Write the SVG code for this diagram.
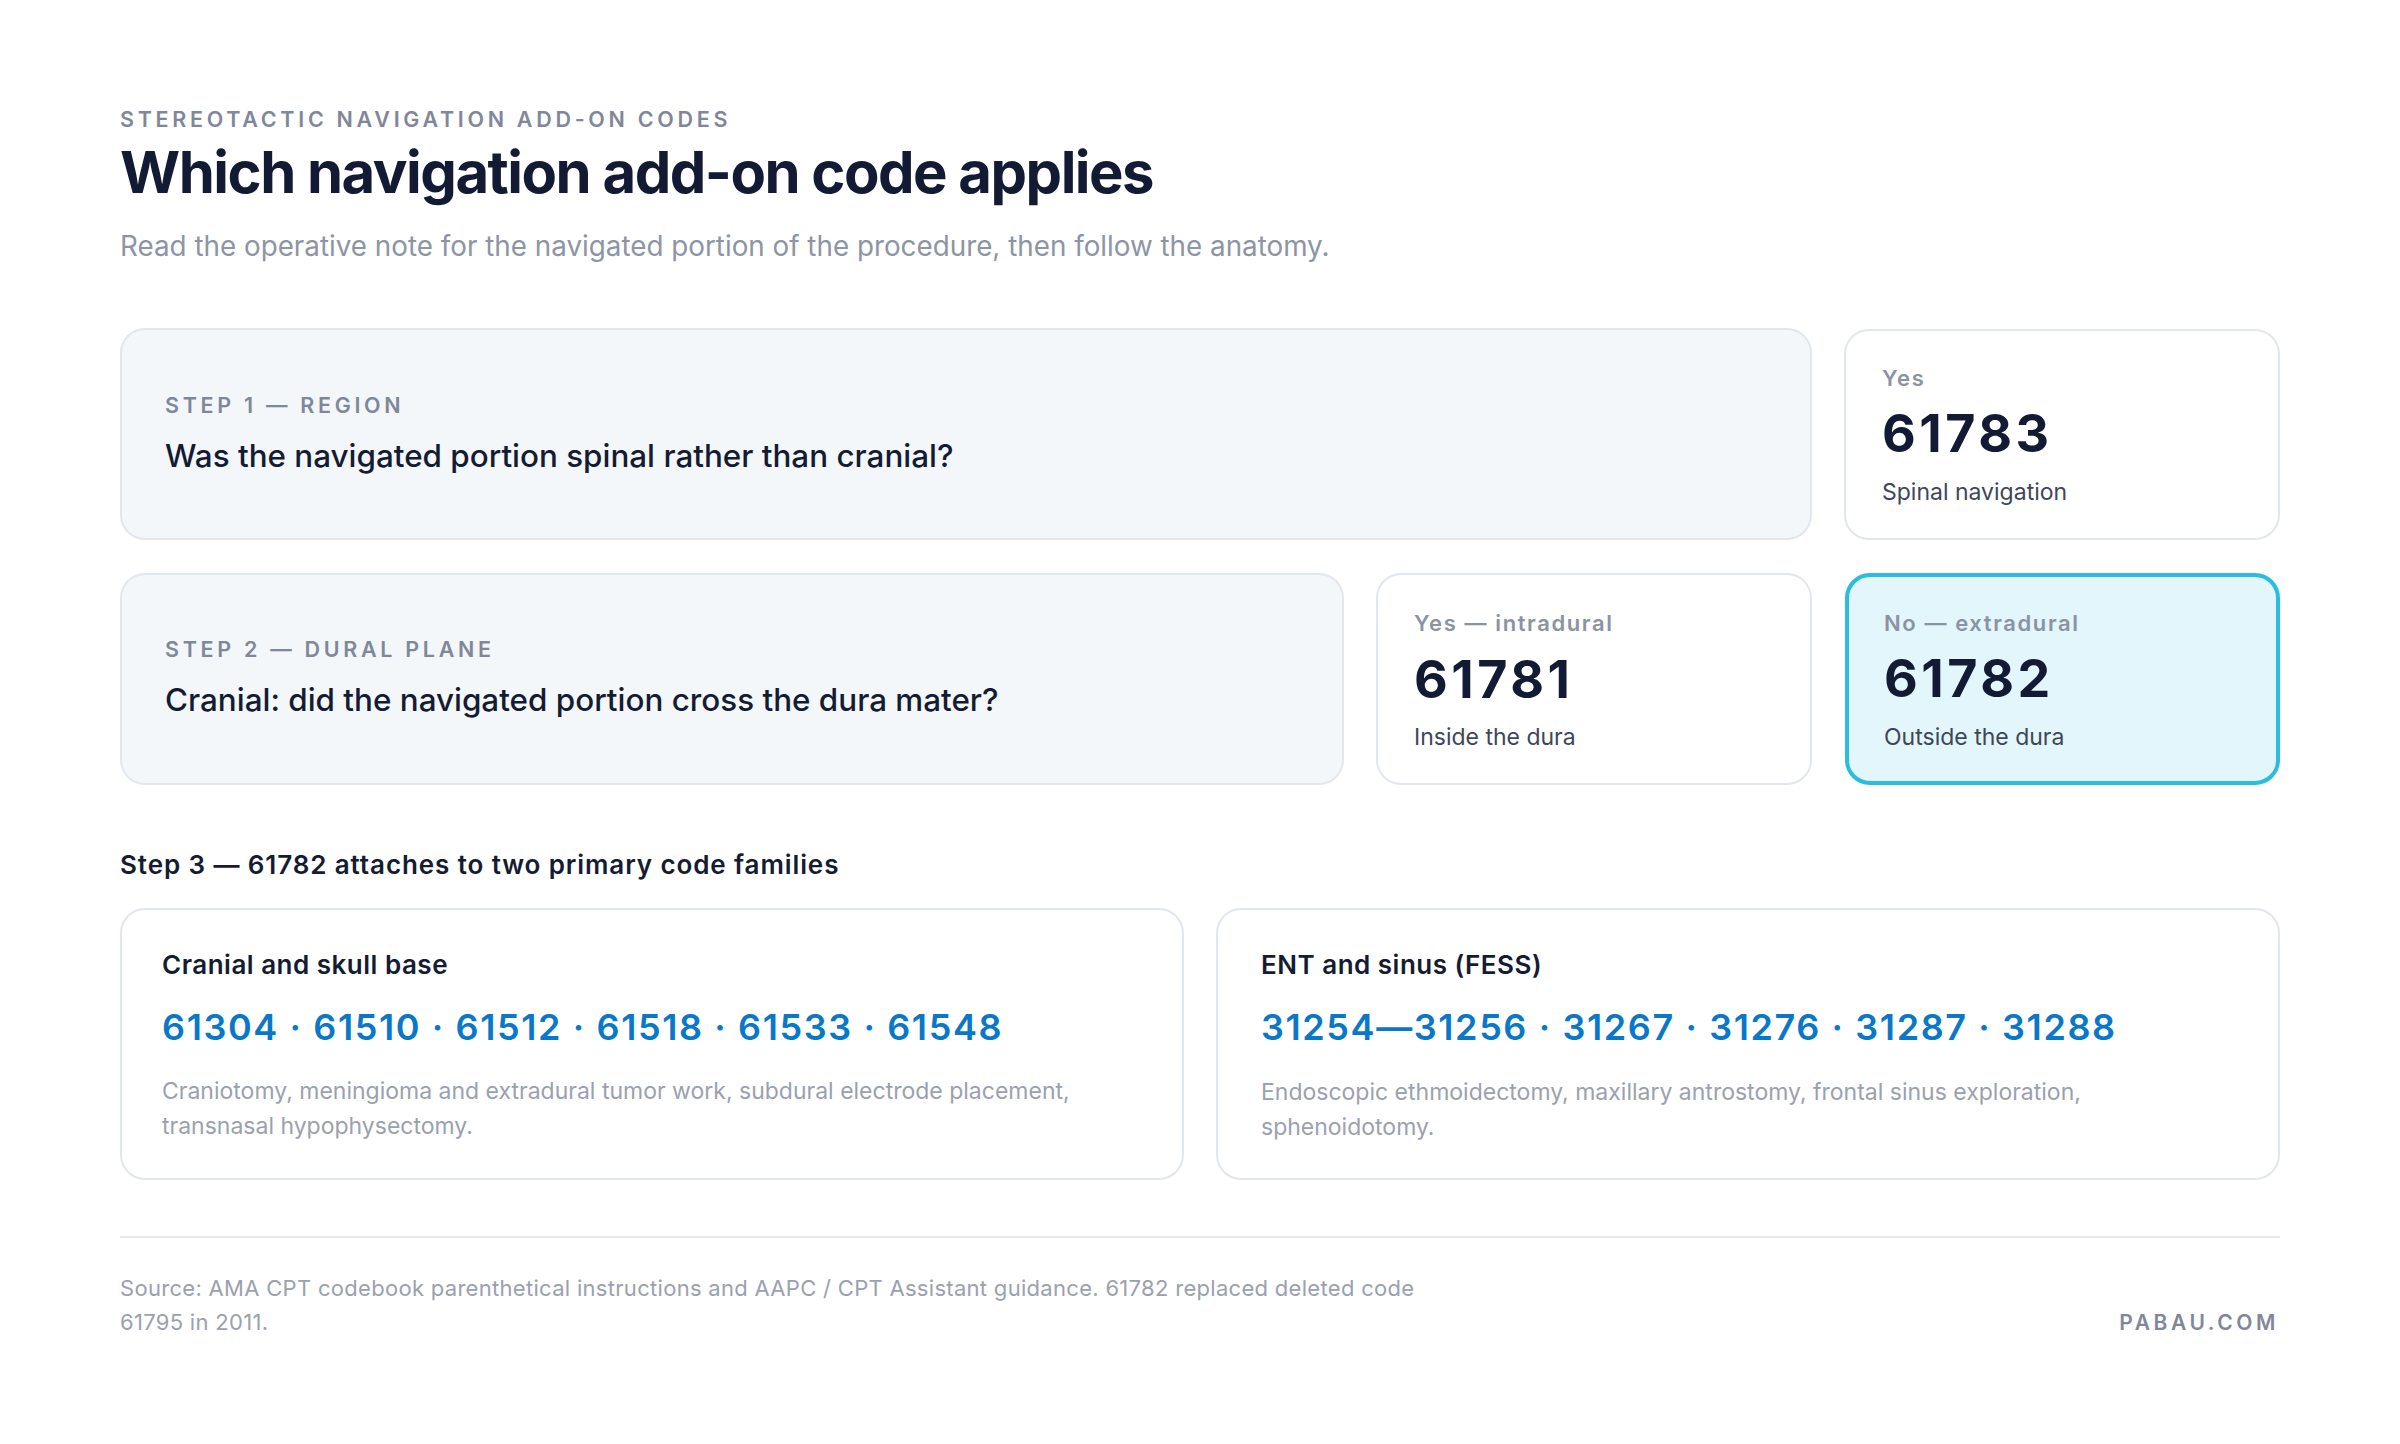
<svg xmlns="http://www.w3.org/2000/svg" width="2400" height="1444" viewBox="0 0 2400 1444">
<style>
text{font-family:Inter,"Noto Sans","Liberation Sans",sans-serif;}
.eyebrow{font-size:21.5px;font-weight:600;letter-spacing:3.7px;fill:#7f889a;}
.title{font-size:58px;font-weight:700;fill:#121b33;letter-spacing:-1.5px;}
.sub{font-size:27.8px;font-weight:400;fill:#8d95a5;}
.q{font-size:31.4px;font-weight:500;fill:#141c33;}
.card{fill:#f4f7fa;stroke:#e2e6ed;stroke-width:2;}
.res{fill:#ffffff;stroke:#e2e6ed;stroke-width:2;}
.hl{fill:#e2f6fb;stroke:#2bbde0;stroke-width:4;}
.lab{font-size:22px;font-weight:600;letter-spacing:1.6px;fill:#8b93a3;}
.code{font-size:52px;font-weight:700;letter-spacing:3.5px;fill:#121b33;}
.desc{font-size:23px;font-weight:400;fill:#3e4658;}
.h3{font-size:26px;font-weight:600;letter-spacing:0.9px;fill:#141c33;}
.ht{font-size:26px;font-weight:600;letter-spacing:0.5px;fill:#141c33;}
.codes{font-size:36px;font-weight:600;letter-spacing:1.6px;fill:#0a78c8;}
.small{font-size:23px;font-weight:400;fill:#9aa1ae;}
.foot{font-size:22px;font-weight:400;letter-spacing:0.3px;fill:#9aa1ae;}
.brand{font-size:21px;font-weight:600;letter-spacing:3.6px;fill:#7f889a;}
</style>
<rect width="2400" height="1444" fill="#ffffff"/>
<g id="header">
<text class="eyebrow" x="120" y="127">STEREOTACTIC NAVIGATION ADD-ON CODES</text>
<text class="title" x="120" y="193">Which navigation add-on code applies</text>
<text class="sub" x="120" y="256">Read the operative note for the navigated portion of the procedure, then follow the anatomy.</text>
</g>
<g id="connectors"></g>
<g id="step1">
<rect class="card" x="121" y="329" width="1690" height="210" rx="24"/>
<text class="eyebrow" x="165" y="413">STEP 1 — REGION</text>
<text class="q" x="165" y="467">Was the navigated portion spinal rather than cranial?</text>
</g>
<g id="res61783">
<rect class="res" x="1845" y="330" width="434" height="209" rx="24"/>
<text class="lab" x="1882" y="386">Yes</text>
<text class="code" x="1882" y="452">61783</text>
<text class="desc" x="1882" y="500">Spinal navigation</text>
</g>
<g id="step2">
<rect class="card" x="121" y="574" width="1222" height="210" rx="24"/>
<text class="eyebrow" x="165" y="657">STEP 2 — DURAL PLANE</text>
<text class="q" x="165" y="711">Cranial: did the navigated portion cross the dura mater?</text>
</g>
<g id="res61781">
<rect class="res" x="1377" y="574" width="434" height="210" rx="24"/>
<text class="lab" x="1414" y="631">Yes — intradural</text>
<text class="code" x="1414" y="698">61781</text>
<text class="desc" x="1414" y="745">Inside the dura</text>
</g>
<g id="res61782">
<rect class="hl" x="1847" y="575" width="431" height="208" rx="23"/>
<text class="lab" x="1884" y="631">No — extradural</text>
<text class="code" x="1884" y="697">61782</text>
<text class="desc" x="1884" y="745">Outside the dura</text>
</g>
<g id="step3">
<text class="h3" x="120" y="874">Step 3 — 61782 attaches to two primary code families</text>
</g>
<g id="family-cranial">
<rect class="res" x="121" y="909" width="1062" height="270" rx="24"/>
<text class="ht" x="162" y="974">Cranial and skull base</text>
<text class="codes" x="162" y="1040">61304 · 61510 · 61512 · 61518 · 61533 · 61548</text>
<text class="small" x="162" y="1099">Craniotomy, meningioma and extradural tumor work, subdural electrode placement,</text>
<text class="small" x="162" y="1134">transnasal hypophysectomy.</text>
</g>
<g id="family-ent">
<rect class="res" x="1217" y="909" width="1062" height="270" rx="24"/>
<text class="ht" x="1261" y="974">ENT and sinus (FESS)</text>
<text class="codes" x="1261" y="1040">31254—31256 · 31267 · 31276 · 31287 · 31288</text>
<text class="small" x="1261" y="1100">Endoscopic ethmoidectomy, maxillary antrostomy, frontal sinus exploration,</text>
<text class="small" x="1261" y="1135">sphenoidotomy.</text>
</g>
<g id="footer">
<line x1="120" y1="1237" x2="2280" y2="1237" stroke="#e5e7eb" stroke-width="2"/>
<text class="foot" x="120" y="1296">Source: AMA CPT codebook parenthetical instructions and AAPC / CPT Assistant guidance. 61782 replaced deleted code</text>
<text class="foot" x="120" y="1330">61795 in 2011.</text>
<text class="brand" x="2279" y="1330" text-anchor="end">PABAU.COM</text>
</g>
</svg>
